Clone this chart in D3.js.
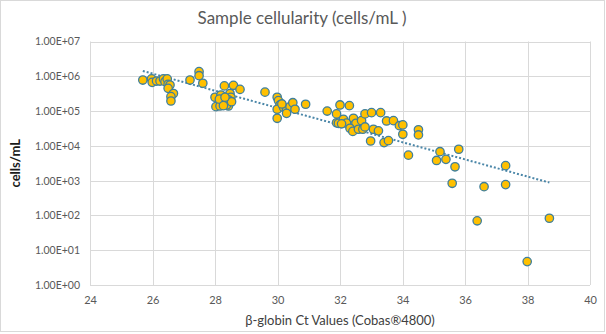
<!DOCTYPE html>
<html>
<head>
<meta charset="utf-8">
<script src="https://cdn.jsdelivr.net/npm/d3@7"></script>
<style>
  body { margin: 0; background: #fff; }
  svg { display: block; font-family: Lato, "Liberation Sans", sans-serif; }
</style>
</head>
<body>
<div id="chart"></div>
<script>
// Set up the SVG container
const width = 606, height = 334;
const margin = { top: 41.5, right: 16, bottom: 49, left: 90 };

// Ct values (x) and cells/mL (y)
const ctValues = [
  25.69, 25.97, 25.99, 26.13, 26.24, 26.35, 26.40, 26.47, 26.50, 26.56, 26.50, 26.67, 26.59, 26.59,
  27.20, 27.49, 27.49, 27.61,
  28.00, 28.03, 28.19, 28.30, 28.48, 28.51, 28.59, 28.80, 28.43, 28.16, 28.37, 28.14, 28.43, 28.27, 28.53, 28.32,
  29.60, 29.99, 30.03, 30.08, 29.99, 29.99, 30.19, 30.29, 30.40, 30.49, 30.56, 30.90, 30.29, 30.14,
  31.59, 32.00, 32.30, 31.89, 31.89, 31.95, 32.11, 32.21, 32.43, 32.51, 32.32, 32.41, 32.59, 32.73,
  32.69, 32.80, 33.01, 33.07, 33.23, 33.30, 33.49, 33.71, 32.98, 33.41, 33.55, 33.90, 34.01, 34.01,
  34.19, 34.51, 34.51, 32.05, 32.80,
  35.20, 35.09, 35.39, 35.80, 35.68, 35.59, 36.61, 37.30, 37.30, 36.39, 38.70, 37.99
];
const cellsPerMl = [
  7.8e5, 8.4e5, 6.7e5, 7.3e5, 7.3e5, 8.4e5, 7.0e5, 8.4e5, 5.9e5, 5.6e5, 4.5e5, 3.2e5, 2.6e5, 1.95e5,
  7.8e5, 1.36e6, 1.04e6, 6.3e5,
  2.5e5, 1.34e5, 2.9e5, 5.3e5, 3.2e5, 2.5e5, 5.5e5, 4.2e5, 1.4e5, 1.4e5, 1.5e5, 2.2e5, 2.1e5, 1.43e5, 1.86e5, 2.5e5,
  3.5e5, 2.5e5, 2.0e5, 1.5e5, 1.13e5, 6.2e4, 1.29e5, 1.08e5, 1.34e5, 1.74e5, 1.13e5, 1.57e5, 8.6e4, 1.6e5,
  1.0e5, 1.5e5, 1.43e5, 8.3e4, 4.6e4, 4.45e4, 5.8e4, 4.5e4, 6.2e4, 4.45e4, 3.2e4, 2.6e4, 3.0e4, 3.0e4,
  5.3e4, 8.3e4, 9.0e4, 3.0e4, 2.7e4, 9.0e4, 5.2e4, 5.3e4, 1.38e4, 1.24e4, 1.41e4, 3.8e4, 4.0e4, 2.15e4,
  5.4e3, 2.9e4, 2.06e4, 4.3e4, 3.5e4,
  6.8e3, 3.8e3, 4.1e3, 8.0e3, 2.5e3, 840, 670, 2.7e3, 770, 70, 83, 4.7
];

// Exponential trendline y = a * e^(b x), coefficients
const trendCoef = [3.1e12, -0.568];

// Axis ticks
const xTicks = [24, 26, 28, 30, 32, 34, 36, 38, 40];
const yTicks = [1, 1e1, 1e2, 1e3, 1e4, 1e5, 1e6, 1e7];

const points = ctValues.map((x, i) => ({ x, y: cellsPerMl[i] }));

const svg = d3.select("#chart")
  .append("svg")
  .attr("width", width)
  .attr("height", height);

// chart area border
svg.append("rect")
  .attr("x", 0.5).attr("y", 0.5)
  .attr("width", width - 2).attr("height", height - 3)
  .attr("fill", "#fff")
  .attr("stroke", "#d9d9d9");

const x = d3.scaleLinear()
  .domain([24, 40])
  .range([margin.left, width - margin.right]);

const y = d3.scaleLog()
  .domain([1, 1e7])
  .range([height - margin.bottom, margin.top]);

// gridlines
svg.append("g")
  .selectAll("line")
  .data(yTicks)
  .join("line")
  .attr("x1", x(24)).attr("x2", x(40))
  .attr("y1", d => Math.round(y(d)) + 0.5)
  .attr("y2", d => Math.round(y(d)) + 0.5)
  .attr("stroke", "#d9d9d9");

svg.append("g")
  .selectAll("line")
  .data(xTicks)
  .join("line")
  .attr("x1", d => Math.round(x(d)) + 0.5)
  .attr("x2", d => Math.round(x(d)) + 0.5)
  .attr("y1", y(1e7)).attr("y2", y(1))
  .attr("stroke", "#d9d9d9");

// y axis
const yAxis = svg.append("g")
  .attr("transform", `translate(${margin.left},0)`)
  .call(d3.axisLeft(y)
    .tickValues(yTicks)
    .tickSize(0)
    .tickPadding(10)
    .tickFormat(d => "1.00E+" + String(Math.round(Math.log10(d))).padStart(2, "0")));
yAxis.select(".domain").remove();
yAxis.selectAll("text")
  .attr("fill", "#595959")
  .style("font-size", "10.5px")
  .style("font-family", "Lato, sans-serif");

// x axis
const xAxis = svg.append("g")
  .attr("transform", `translate(0,${y(1)})`)
  .call(d3.axisBottom(x)
    .tickValues(xTicks)
    .tickSize(0)
    .tickPadding(11)
    .tickFormat(d3.format("d")));
xAxis.select(".domain").remove();
xAxis.selectAll("text")
  .attr("fill", "#595959")
  .style("font-size", "11px")
  .style("font-family", "Lato, sans-serif");

// trendline over the data range
const xExt = d3.extent(points, d => d.x);
const trend = d3.range(0, 41).map(i => {
  const xv = xExt[0] + (xExt[1] - xExt[0]) * i / 40;
  return { x: xv, y: trendCoef[0] * Math.exp(trendCoef[1] * xv) };
});

svg.append("path")
  .datum(trend)
  .attr("d", d3.line().x(d => x(d.x)).y(d => y(d.y)))
  .attr("fill", "none")
  .attr("stroke", "#4a86a8")
  .attr("stroke-width", 2)
  .attr("stroke-dasharray", "2 2");

// points
svg.append("g")
  .selectAll("circle")
  .data(points)
  .join("circle")
  .attr("cx", d => x(d.x))
  .attr("cy", d => y(d.y))
  .attr("r", 4.2)
  .attr("fill", "#ffc000")
  .attr("stroke", "#3f7f9c")
  .attr("stroke-width", 1.3);

// titles
svg.append("text")
  .attr("x", 302)
  .attr("y", 24)
  .attr("text-anchor", "middle")
  .attr("fill", "#595959")
  .style("font-size", "17px")
  .text("Sample cellularity (cells/mL )");

svg.append("text")
  .attr("x", x(32))
  .attr("y", 325)
  .attr("text-anchor", "middle")
  .attr("fill", "#404040")
  .style("font-size", "13px")
  .text("β-globin Ct Values (Cobas®4800)");

svg.append("text")
  .attr("transform", `translate(20,${(y(1) + y(1e7)) / 2}) rotate(-90)`)
  .attr("text-anchor", "middle")
  .attr("fill", "#1a1a1a")
  .style("font-size", "13px")
  .style("font-weight", "bold")
  .text("cells/mL");
</script>
</body>
</html>
